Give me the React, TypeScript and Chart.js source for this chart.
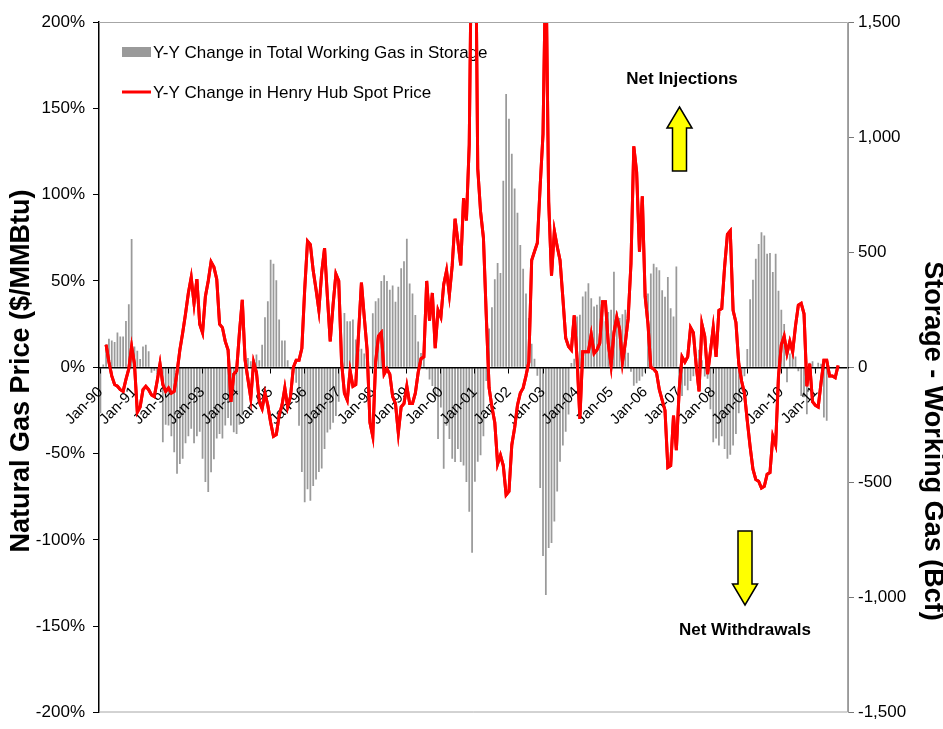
import React, { useEffect, useRef } from "react";
import { Chart, registerables } from "chart.js";

Chart.register(...registerables);

const FONT = '"Liberation Sans", Arial, Helvetica, sans-serif';
const BAR_COLOR = "#9a9a9a";
const LINE_COLOR = "#ff0000";

const YEARS = [1990, 1991, 1992, 1993, 1994, 1995, 1996, 1997, 1998, 1999, 2000, 2001, 2002, 2003, 2004, 2005, 2006, 2007, 2008, 2009, 2010, 2011];
const MONTHS = ["Jan", "Feb", "Mar", "Apr", "May", "Jun", "Jul", "Aug", "Sep", "Oct", "Nov", "Dec"];

const LEGEND_LABELS = [
  "Y-Y Change in Total Working Gas in Storage",
  "Y-Y Change in Henry Hub Spot Price",
];
const LEFT_TITLE = "Natural Gas Price ($/MMBtu)";
const RIGHT_TITLE = "Storage - Working Gas (Bcf)";
const NOTE_UP = "Net Injections";
const NOTE_DOWN = "Net Withdrawals";

// Y-Y change in total working gas in storage (Bcf), monthly from Jan-90
const storageChangeBcf: number[] = [
  -200, 12, 100, 124, 116, 110, 151, 134, 134, 201, 274, 557, // 1990
  90, 72, 36, 90, 98, 70, -24, -15, -30, -20, -326, -250, // 1991
  -253, -300, -369, -463, -420, -398, -330, -300, -267, -330, -300, -280, // 1992
  -398, -499, -542, -456, -400, -310, -290, -310, -253, -220, -253, -282, // 1993
  -290, -250, -210, 55, 40, 26, 33, 55, 30, 98, 217, 287, // 1994
  467, 450, 378, 208, 116, 116, 30, -10, -24, -67, -254, -455, // 1995
  -586, -530, -580, -516, -488, -455, -440, -355, -284, -270, -241, -212, // 1996
  -150, 35, 236, 200, 200, 207, 121, 78, 80, 60, 30, 5, // 1997
  235, 287, 300, 375, 400, 375, 337, 355, 285, 350, 430, 460, // 1998
  558, 364, 320, 227, 112, 62, 40, -10, -53, -82, -139, -312, // 1999
  -175, -441, -254, -312, -398, -412, -355, -412, -427, -499, -628, -806, // 2000
  -497, -411, -382, -300, -60, 168, 261, 382, 453, 410, 810, 1187, // 2001
  1080, 928, 777, 671, 531, 428, 320, 214, 102, 37, -37, -525, // 2002
  -820, -989, -785, -764, -670, -540, -411, -340, -280, -205, 19, 37, // 2003
  221, 228, 307, 329, 365, 300, 264, 272, 307, 250, 200, 240, // 2004
  250, 415, 243, 214, 230, 250, 63, -20, -80, -70, -59, -40, // 2005
  -23, 320, 407, 450, 435, 421, 335, 306, 392, 256, 220, 438, // 2006
  -67, -125, -80, -100, -60, -39, 55, 76, 30, -40, -50, -182, // 2007
  -326, -310, -340, -300, -355, -398, -380, -340, -290, -200, -100, -39, // 2008
  79, 295, 380, 471, 536, 586, 572, 493, 496, 414, 493, 332, // 2009
  250, 188, -65, 60, 105, 47, -17, -125, -130, -204, 20, 26, // 2010
  -10, 20, 15, -218, -232, // 2011
];

// Y-Y change in Henry Hub spot price (%), monthly from Jan-90
const priceChangePct: (number | null)[] = [
  null, null, 13, 3, -5, -10, -11, -13, -14, -7, -1, 12, // 1990
  2, -26, -23, -13, -11, -13, -16, -17, -8, 2, -10, -14, // 1991
  -12, -15, -14, -3, 10, 20, 31, 43, 52, 37, 51, 25, // 1992
  20, 41, 50, 61, 58, 51, 25, 23, 15, 10, -20, -4, // 1993
  -2, 20, 39, 4, -7, -18, 3, -3, -20, -24, -15, -22, // 1994
  -32, -40, -39, -28, -22, -12, -23, -17, 0, 4, 4, 11, // 1995
  45, 73, 71, 56, 45, 33, 55, 69, 41, 15, 36, 54, // 1996
  50, 3, -15, -19, -2, -11, -10, 20, 49, 29, 10, -32, // 1997
  -40, 3, 18, 20, -4, -1, -4, -17, -21, -38, -23, -21, // 1998
  -11, -21, -21, -15, -3, 5, 6, 50, 27, 43, 11, 33, // 1999
  29, 48, 56, 42, 59, 86, 73, 59, 98, 85, 129, 280, // 2000
  300, 115, 90, 75, 30, -12, -23, -32, -56, -51, -57, -74, // 2001
  -72, -45, -35, -22, -15, -12, -5, 3, 62, 67, 72, 105, // 2002
  135, 240, 96, 53, 79, 70, 62, 40, 17, 12, 10, 30, // 2003
  5, -30, 9, 9, 9, 19, 8, 10, 14, 38, 38, 14, // 2004
  1, 20, 29, 22, 3, 14, 28, 60, 128, 113, 67, 99, // 2005
  41, 25, 0, -1, -3, -13, -19, -25, -58, -57, -28, -48, // 2006
  -13, 6, 3, 6, 23, 20, 1, -14, 25, 18, -4, 9, // 2007
  23, 6, 33, 34, 58, 77, 79, 33, 26, 2, -8, -15, // 2008
  -31, -46, -59, -65, -66, -70, -69, -62, -61, -40, -45, -5, // 2009
  13, 18, 8, 15, 9, 24, 36, 37, 31, -11, 2, -20, // 2010
  -22, -23, -9, 4, 4, -5, -5, -6, 1, // 2011
];

const categories: string[] = [];
for (const y of YEARS) {
  for (const m of MONTHS) categories.push(`${m}-${String(y).slice(2)}`);
}
const padTo = (arr: (number | null)[], n: number) => {
  const out = arr.slice();
  while (out.length < n) out.push(null);
  return out;
};

const decorPlugin = {
  id: "decor",
  beforeDatasetsDraw(chart: any) {
    const ctx = chart.ctx as CanvasRenderingContext2D;
    ctx.save();
    ctx.fillStyle = BAR_COLOR;
    ctx.fillRect(122, 47, 29, 10);
    ctx.strokeStyle = LINE_COLOR;
    ctx.lineWidth = 3;
    ctx.beginPath();
    ctx.moveTo(122, 92);
    ctx.lineTo(151, 92);
    ctx.stroke();
    ctx.fillStyle = "#000";
    ctx.font = `17px ${FONT}`;
    ctx.textAlign = "left";
    ctx.textBaseline = "middle";
    ctx.fillText(LEGEND_LABELS[0], 153, 53);
    ctx.fillText(LEGEND_LABELS[1], 153, 93);
    ctx.restore();
  },
  afterDraw(chart: any) {
    const ctx = chart.ctx as CanvasRenderingContext2D;
    const a = chart.chartArea;

    // redraw the price line above the x-axis labels
    const lineMeta = chart.getDatasetMeta(0);
    ctx.save();
    ctx.beginPath();
    ctx.rect(a.left, a.top, a.right - a.left, a.bottom - a.top);
    ctx.clip();
    lineMeta.controller.draw();
    ctx.restore();

    ctx.save();
    // plot area border (gray) on top/right/bottom
    ctx.strokeStyle = "#a6a6a6";
    ctx.lineWidth = 1;
    ctx.beginPath();
    ctx.moveTo(a.left, a.top + 0.5);
    ctx.lineTo(a.right - 0.5, a.top + 0.5);
    ctx.lineTo(a.right - 0.5, a.bottom - 0.5);
    ctx.lineTo(a.left, a.bottom - 0.5);
    ctx.stroke();

    // axis titles
    ctx.fillStyle = "#000";
    ctx.font = `bold 27px ${FONT}`;
    ctx.textAlign = "center";
    ctx.textBaseline = "middle";
    ctx.save();
    ctx.translate(22, 371);
    ctx.rotate(-Math.PI / 2);
    ctx.fillText(LEFT_TITLE, 0, 0);
    ctx.restore();
    ctx.save();
    ctx.translate(932, 441);
    ctx.rotate(Math.PI / 2);
    ctx.fillText(RIGHT_TITLE, 0, 0);
    ctx.restore();

    // annotations
    ctx.font = `bold 17px ${FONT}`;
    ctx.fillText(NOTE_UP, 682, 79);
    ctx.fillText(NOTE_DOWN, 745, 630);

    ctx.fillStyle = "#ffff00";
    ctx.strokeStyle = "#000";
    ctx.lineWidth = 1.5;
    // up arrow
    ctx.beginPath();
    ctx.moveTo(679.5, 107);
    ctx.lineTo(692, 128);
    ctx.lineTo(686.5, 128);
    ctx.lineTo(686.5, 171);
    ctx.lineTo(672.5, 171);
    ctx.lineTo(672.5, 128);
    ctx.lineTo(667, 128);
    ctx.closePath();
    ctx.fill();
    ctx.stroke();
    // down arrow
    ctx.beginPath();
    ctx.moveTo(745, 605);
    ctx.lineTo(757.5, 584);
    ctx.lineTo(752, 584);
    ctx.lineTo(752, 531);
    ctx.lineTo(738, 531);
    ctx.lineTo(738, 584);
    ctx.lineTo(732.5, 584);
    ctx.closePath();
    ctx.fill();
    ctx.stroke();
    ctx.restore();
  },
};

export default function App() {
  const canvasRef = useRef<HTMLCanvasElement | null>(null);

  useEffect(() => {
    const canvas = canvasRef.current;
    if (!canvas) return;
    const n = categories.length;
    const chart = new Chart(canvas, {
      type: "bar",
      data: {
        labels: categories,
        datasets: [
          {
            type: "line",
            label: LEGEND_LABELS[1],
            data: padTo(priceChangePct, n),
            yAxisID: "y",
            borderColor: LINE_COLOR,
            borderWidth: 3,
            pointRadius: 0,
            tension: 0,
            spanGaps: false,
            clip: 0,
            order: 1,
          } as any,
          {
            type: "bar",
            label: LEGEND_LABELS[0],
            data: padTo(storageChangeBcf, n),
            yAxisID: "y1",
            backgroundColor: BAR_COLOR,
            barPercentage: 0.62,
            categoryPercentage: 1.0,
            order: 2,
          } as any,
        ],
      },
      options: {
        responsive: false,
        devicePixelRatio: 1,
        animation: false,
        layout: { padding: { top: 22, bottom: 9, left: 0, right: 0 } },
        plugins: {
          legend: { display: false },
          tooltip: { enabled: false },
          title: { display: false },
        },
        scales: {
          x: {
            type: "category",
            position: { y: 0 } as any,
            offset: true,
            grid: {
              display: true,
              drawOnChartArea: false,
              drawTicks: true,
              tickLength: 5,
              offset: false,
              z: 1,
              color: (c: any) => (c.index % 12 === 0 ? "#000" : "rgba(0,0,0,0)"),
            },
            border: { display: true, color: "#000", width: 1.5, z: 1 },
            ticks: {
              z: 1,
              autoSkip: false,
              minRotation: 45,
              maxRotation: 45,
              padding: 11,
              color: "#000",
              font: { family: FONT, size: 15 },
              callback: (_v: any, i: number) => (i % 12 === 0 ? categories[i] : ""),
            },
          },
          y: {
            type: "linear",
            position: "left",
            min: -200,
            max: 200,
            afterFit: (s: any) => {
              s.width = 99;
            },
            grid: { display: true, drawOnChartArea: false, tickLength: 6, color: "#000" },
            border: { display: true, color: "#000", width: 1.5 },
            ticks: {
              stepSize: 50,
              padding: 8,
              color: "#000",
              font: { family: FONT, size: 17, lineHeight: 1 },
              callback: (v: any) => `${v}%`,
            },
          },
          y1: {
            type: "linear",
            position: "right",
            min: -1500,
            max: 1500,
            afterFit: (s: any) => {
              s.width = 95;
            },
            grid: { display: true, drawOnChartArea: false, tickLength: 6, color: "#777" },
            border: { display: true, color: "#999", width: 1 },
            ticks: {
              stepSize: 500,
              padding: 4,
              color: "#000",
              font: { family: FONT, size: 17, lineHeight: 1 },
              callback: (v: any) => Number(v).toLocaleString("en-US"),
            },
          },
        },
      },
      plugins: [decorPlugin],
    });
    return () => chart.destroy();
  }, []);

  return (
    <div style={{ position: "fixed", left: 0, top: 0, width: 943, height: 729, background: "#fff" }}>
      <canvas ref={canvasRef} width={943} height={729} style={{ display: "block" }} />
    </div>
  );
}
